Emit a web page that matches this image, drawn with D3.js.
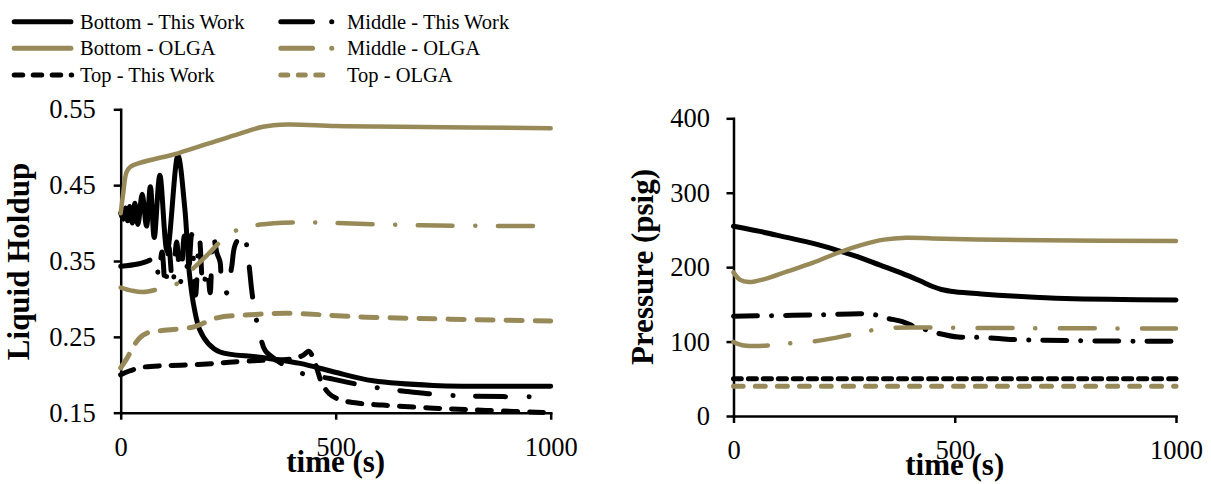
<!DOCTYPE html>
<html><head><meta charset="utf-8">
<script src="https://cdn.jsdelivr.net/npm/d3@7"></script>
<style>html,body{margin:0;padding:0;background:#fff;} svg{display:block;}</style>
</head><body>
<svg id="chart" width="1211" height="484"></svg>
<script>
// ---------- data ----------
const timeTicks = [0, 500, 1000];
const holdupTicks = [0.15, 0.25, 0.35, 0.45, 0.55];
const pressureTicks = [0, 100, 200, 300, 400];
const seriesKeys = ["bottomTW", "middleTW", "bottomOLGA", "middleOLGA", "topTW", "topOLGA"];
const seriesNames = ["Bottom - This Work", "Middle - This Work", "Bottom - OLGA", "Middle - OLGA", "Top - This Work", "Top - OLGA"];
const axisTitles = ["Liquid Holdup", "Pressure (psig)", "time (s)"];

// Liquid holdup [time s, holdup]
const holdupBottomTW = [[0,0.413],[6,0.405],[11,0.42],[16,0.403],[21,0.422],[27,0.4],[33,0.426],[40,0.398],[50,0.438],[60,0.396],[69,0.448],[78,0.381],[91,0.463],[108,0.363],[133,0.489],[149,0.42],[160,0.332],[172,0.285],[184,0.259],[204,0.241],[231,0.23],[324,0.223],[417,0.215],[494,0.204],[587,0.192],[727,0.186],[1000,0.185]];
const holdupBottomOLGA = [[0,0.413],[6,0.44],[13,0.466],[22,0.474],[133,0.492],[205,0.505],[277,0.518],[331,0.527],[387,0.530],[500,0.528],[650,0.527],[1000,0.525]];
const holdupMiddleTW = [[0,0.343],[40,0.346],[67,0.351],[80,0.357],[88,0.33],[96,0.362],[104,0.315],[112,0.368],[121,0.318],[130,0.375],[139,0.322],[148,0.383],[157,0.33],[165,0.385],[174,0.305],[183,0.38],[192,0.315],[201,0.34],[208,0.308],[215,0.383],[224,0.36],[231,0.349],[236,0.316],[246,0.308],[258,0.342],[266,0.371],[285,0.387],[297,0.351],[305,0.31],[313,0.28],[325,0.25],[336,0.232],[363,0.219],[409,0.204],[487,0.195],[537,0.189],[584,0.184],[665,0.178],[715,0.175],[800,0.172],[1000,0.171]];
const holdupMiddleOLGA = [[0,0.315],[25,0.311],[52,0.309],[88,0.313],[134,0.321],[168,0.34],[200,0.357],[235,0.377],[275,0.392],[324,0.398],[417,0.401],[500,0.400],[700,0.397],[1000,0.396]];
const holdupTopTW = [[0,0.2],[20,0.205],[52,0.21],[100,0.212],[160,0.213],[220,0.215],[262,0.217],[330,0.219],[400,0.221],[425,0.226],[437,0.231],[448,0.222],[458,0.205],[467,0.19],[485,0.175],[510,0.167],[560,0.162],[610,0.16],[727,0.156],[850,0.153],[1000,0.15]];
const holdupTopOLGA = [[0,0.209],[15,0.222],[29,0.237],[45,0.249],[61,0.255],[107,0.259],[169,0.263],[224,0.275],[300,0.279],[386,0.281],[572,0.276],[1000,0.271]];

// Pressure [time s, psig]
const pressureBottomTW = [[0,255],[60,248],[120,240],[180,232],[233,223],[280,214],[330,203],[380,192],[420,182],[450,174],[470,170],[500,167],[560,164],[640,161],[750,158],[1000,156]];
const pressureBottomOLGA = [[0,193],[15,183],[35,180],[70,184],[120,194],[180,206],[235,219],[290,230],[340,237],[390,239.5],[450,238.5],[550,237],[700,236],[1000,235]];
const pressureMiddleTW = [[0,134],[100,135],[200,136],[290,137.5],[320,136],[350,131],[380,127],[414,119],[437,115.5],[463,111],[508,106],[535,106],[590,104.4],[641,102.5],[700,101.8],[830,100.8],[1000,100.3]];
const pressureMiddleOLGA = [[0,99.5],[20,95],[45,94],[90,95.4],[135,98],[184,100.5],[230,105],[270,110],[316,115.5],[360,118.5],[412,119],[500,118.5],[700,118],[1000,117.5]];
const pressureTopTW = [[0,50],[500,50],[1000,50]];
const pressureTopOLGA = [[0,40],[500,40],[1000,40]];

// ---------- styling ----------
const OLIVE = "#978A58";
const FONT = "'Liberation Serif','Times New Roman',serif";
const styles = {
  bottomTW:   {color:"#000", width:5,   dashL:null, dashR:null, legendDash:null},
  middleTW:   {color:"#000", width:5,   dashL:"30,23.5,0.1,22.5", dashR:"24,14,0.1,14", legendDash:"31.7,19.2,0.1,40"},
  bottomOLGA: {color:OLIVE,  width:4.5, dashL:null, dashR:null, legendDash:null},
  middleOLGA: {color:OLIVE,  width:4.5, dashL:"35,22.5,0.1,22.5", dashR:"35,22.5,0.1,24.5", legendDash:"31.7,19.2,0.1,40"},
  topTW:      {color:"#000", width:5,   dashL:"14,12", dashR:"8,7", legendDash:"8.5,10.5"},
  topOLGA:    {color:OLIVE,  width:5,   dashL:"16,13", dashR:"10,12", legendDash:"7,10.5"}
};

const holdupData = {bottomTW:holdupBottomTW, middleTW:holdupMiddleTW, bottomOLGA:holdupBottomOLGA, middleOLGA:holdupMiddleOLGA, topTW:holdupTopTW, topOLGA:holdupTopOLGA};
const pressureData = {bottomTW:pressureBottomTW, middleTW:pressureMiddleTW, bottomOLGA:pressureBottomOLGA, middleOLGA:pressureMiddleOLGA, topTW:pressureTopTW, topOLGA:pressureTopOLGA};

const svg = d3.select("#chart");

function panel(cfg) {
  const x = d3.scaleLinear().domain([0,1000]).range([cfg.x0, cfg.x1]);
  const y = d3.scaleLinear().domain(cfg.yDomain).range([cfg.yBot, cfg.yTop]);
  const g = svg.append("g");

  const xa = g.append("g").attr("transform", `translate(0,${cfg.yBot})`)
    .call(d3.axisBottom(x).tickValues(timeTicks).tickFormat(d3.format("d")).tickSizeInner(7).tickSizeOuter(0).tickPadding(17));
  const ya = g.append("g").attr("transform", `translate(${cfg.x0},0)`)
    .call(d3.axisLeft(y).tickValues(cfg.yTicks).tickFormat(cfg.yFmt).tickSizeInner(7).tickSizeOuter(0).tickPadding(cfg.yPad));
  [xa, ya].forEach(a => {
    a.attr("font-family", FONT).attr("font-size", 26.5);
    a.selectAll("path.domain").attr("stroke", "#000").attr("stroke-width", 2.5).attr("stroke-linecap", "square");
    a.selectAll(".tick line").attr("stroke", "#000").attr("stroke-width", 2.5);
    a.selectAll(".tick text").attr("fill", "#000");
  });

  const line = d3.line().x(d => x(d[0])).y(d => y(d[1])).curve(d3.curveCatmullRom.alpha(0.5));
  seriesKeys.forEach(k => {
    const s = styles[k];
    const p = g.append("path").datum(cfg.data[k]).attr("d", line)
      .attr("fill", "none").attr("stroke", s.color).attr("stroke-width", s.width)
      .attr("stroke-linecap", "round").attr("stroke-linejoin", "round");
    const dash = cfg.side === "L" ? s.dashL : s.dashR;
    if (dash) p.attr("stroke-dasharray", dash);
  });

  g.append("text").attr("transform", `translate(${cfg.yTitleX},${cfg.yTitleY}) rotate(-90)`)
    .attr("text-anchor", "middle").attr("font-family", FONT).attr("font-weight", "bold")
    .attr("font-size", 31).attr("fill", "#000").text(cfg.yTitle);
  g.append("text").attr("x", (cfg.x0 + cfg.x1) / 2).attr("y", cfg.yBot + 59)
    .attr("text-anchor", "middle").attr("font-family", FONT).attr("font-weight", "bold")
    .attr("font-size", 31).attr("fill", "#000").text(axisTitles[2]);
}

panel({side:"L", x0:120.7, x1:550.7, yTop:109.3, yBot:412.7, yDomain:[0.15,0.55], yTicks:holdupTicks,
  yFmt:d3.format(".2f"), yPad:18, data:holdupData, yTitle:axisTitles[0], yTitleX:29, yTitleY:261.5});
panel({side:"R", x0:733.5, x1:1176, yTop:118.3, yBot:416, yDomain:[0,400], yTicks:pressureTicks,
  yFmt:d3.format("d"), yPad:16.5, data:pressureData, yTitle:axisTitles[1], yTitleX:653, yTitleY:267});

// ---------- legend ----------
const legendCols = [{lx0:14.2, lx1:71.7, tx:80}, {lx0:280.8, lx1:333.3, tx:347}];
const legendRows = [21.7, 48.3, 75];
const lg = svg.append("g");
seriesKeys.forEach((k, i) => {
  const col = legendCols[i % 2], ry = legendRows[Math.floor(i / 2)];
  const s = styles[k];
  const p = lg.append("path").attr("d", `M${col.lx0},${ry}H${k === "bottomTW" || k === "bottomOLGA" ? col.lx1 - 0.8 : col.lx1}`)
    .attr("fill", "none").attr("stroke", s.color).attr("stroke-width", 5).attr("stroke-linecap", "round");
  if (s.legendDash) p.attr("stroke-dasharray", s.legendDash);
  lg.append("text").attr("x", col.tx).attr("y", ry + 6.8).attr("font-family", FONT)
    .attr("font-size", 20.5).attr("fill", "#000").text(seriesNames[i]);
});
</script>
</body></html>
